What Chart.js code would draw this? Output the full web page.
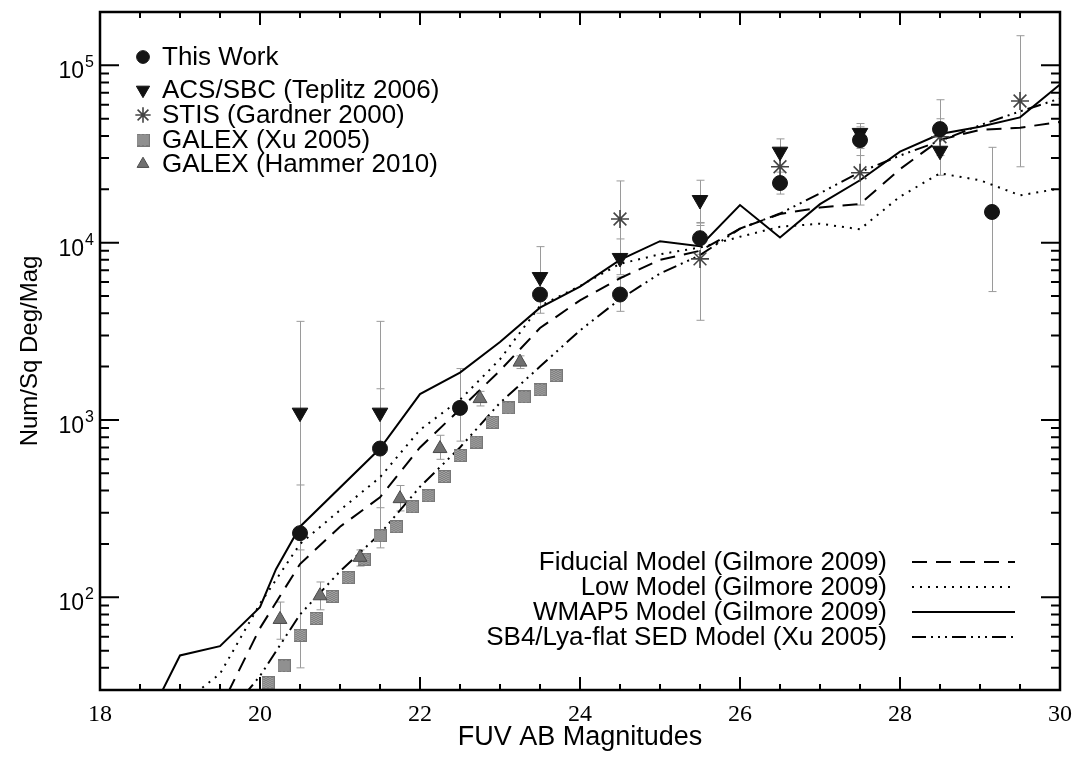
<!DOCTYPE html>
<html>
<head>
<meta charset="utf-8">
<script src="https://cdn.jsdelivr.net/npm/chart.js@4.4.1/dist/chart.umd.min.js"></script>
<style>
  html, body { margin: 0; padding: 0; background: #fff; }
  #wrap { width: 1073px; height: 759px; position: relative; }
</style>
</head>
<body>
<div id="wrap"><canvas id="chart"></canvas></div>
<script>
// ---- observed number counts ----
const thisWorkMag = [20.5, 21.5, 22.5, 23.5, 24.5, 25.5, 26.5, 27.5, 28.5, 29.15];
const thisWorkVal = [230, 690, 1170, 5100, 5100, 10600, 21700, 37900, 43700, 14900];
const thisWorkLo  = [40, 320, 760, 4000, 4100, 8600, 18800, 31000, 34000, 5300];
const thisWorkHi  = [430, 1500, 1950, 6300, 6400, 12900, 25000, 45000, 64000, 34500];

const acsMag = [20.5, 21.5, 23.5, 24.5, 25.5, 26.5, 27.5, 28.5];
const acsVal = [1100, 1100, 6400, 8200, 17400, 32600, 41600, 33000];
const acsLo  = [185, 190, 5200, 6600, 13000, 27000, 35000, 24000];
const acsHi  = [3600, 3600, 9500, 10500, 22500, 38500, 47000, 40000];

const stisMag = [24.5, 25.5, 26.5, 27.5, 28.5, 29.5];
const stisVal = [13600, 8100, 26800, 24800, 39600, 63000];
const stisLo  = [8500, 3650, 21000, 16300, 31000, 26800];
const stisHi  = [22300, 12500, 33000, 34000, 50000, 147000];

const xuMag = [20.1, 20.3, 20.5, 20.7, 20.9, 21.1, 21.3, 21.5, 21.7, 21.9, 22.1, 22.3, 22.5, 22.7, 22.9, 23.1, 23.3, 23.5, 23.7];
const xuVal = [33, 41, 61, 76, 101, 129, 164, 222, 250, 324, 374, 480, 630, 750, 970, 1170, 1350, 1480, 1780];

const hammerMag = [20.25, 20.75, 21.25, 21.75, 22.25, 22.75, 23.25];
const hammerVal = [75, 102, 168, 360, 690, 1320, 2120];
const hammerLo  = [58, 85, 150, 307, 600, 1200, 1950];
const hammerHi  = [94, 122, 185, 427, 820, 1450, 2300];

// ---- models ----
const fidMag = [19.6, 20.0, 20.5, 21.0, 21.5, 22.0, 22.5, 23.0, 23.5, 24.0, 24.5, 25.0, 25.5, 26.0, 26.5, 27.0, 27.5, 28.0, 28.5, 29.0, 29.5, 30.0];
const fidVal = [29, 67, 154, 250, 366, 700, 1150, 1900, 3300, 4730, 6300, 8000, 9000, 12000, 14500, 15800, 16500, 26000, 38000, 43300, 44500, 48000];

const lowMag = [19.2, 19.5, 20.0, 20.5, 21.0, 21.5, 22.0, 22.5, 23.0, 23.5, 24.0, 24.5, 25.0, 25.5, 26.0, 26.5, 27.0, 27.5, 28.0, 28.5, 29.0, 29.5, 30.0];
const lowVal = [29, 37, 92, 200, 310, 475, 880, 1300, 2200, 4400, 5700, 7600, 8600, 9400, 10800, 12300, 12800, 11900, 18200, 24600, 22500, 18500, 20200];

const wmapMag = [18.75, 19.0, 19.5, 20.0, 20.2, 20.5, 21.5, 22.0, 22.5, 23.0, 23.5, 24.0, 24.5, 25.0, 25.5, 26.0, 26.5, 27.0, 27.5, 28.0, 28.5, 29.0, 29.5, 30.0];
const wmapVal = [28, 47, 53, 88, 144, 250, 690, 1400, 1850, 2750, 4300, 5650, 8000, 10200, 9550, 16300, 10700, 16500, 22500, 32600, 41000, 45100, 50900, 78000];

const sb4Mag = [19.8, 20.0, 20.5, 21.0, 21.5, 22.0, 22.5, 23.0, 23.5, 24.0, 24.5, 25.0, 25.5, 26.0, 26.5, 27.0, 27.5, 28.0, 28.5, 29.0, 29.5, 30.0];
const sb4Val = [28, 36, 80, 140, 228, 420, 700, 1250, 2000, 3200, 4800, 6700, 8500, 12000, 14600, 19000, 25000, 31000, 37500, 46000, 55000, 65000];

const yDecades = [100, 1000, 10000, 100000];

const SANS = "'Liberation Sans', Arial, sans-serif";
const SERIF = "'Liberation Serif', 'Times New Roman', serif";

const pts = (xs, ys) => xs.map((x, i) => ({ x: x, y: ys[i] }));

// checkered grey square like the GALEX (Xu) symbol
function squareSprite() {
    const c = document.createElement('canvas');
    c.width = 13; c.height = 13;
    const g = c.getContext('2d');
    g.fillStyle = '#a2a2a2';
    g.fillRect(0, 0, 13, 13);
    g.fillStyle = '#5c5c5c';
    for (let i = 0; i < 13; i += 2) {
        for (let j = (i / 2) % 2; j < 13; j += 2) g.fillRect(i, j, 1, 1);
    }
    g.strokeStyle = '#777';
    g.strokeRect(0.5, 0.5, 12, 12);
    return c;
}
const sqImg = squareSprite();

const DASH_FID = [15, 9];
const DASH_LOW = [2, 6];
const DASH_SB4 = [14, 5, 2, 5, 2, 5, 2, 5];

function lineSet(label, xs, ys, dash) {
    return {
        type: 'line', label: label, data: pts(xs, ys),
        borderColor: '#000', borderWidth: 2, borderDash: dash,
        pointRadius: 0, tension: 0, fill: false, order: 5
    };
}

const datasets = [
    lineSet('Fiducial Model (Gilmore 2009)', fidMag, fidVal, DASH_FID),
    lineSet('Low Model (Gilmore 2009)', lowMag, lowVal, DASH_LOW),
    lineSet('WMAP5 Model (Gilmore 2009)', wmapMag, wmapVal, []),
    lineSet('SB4/Lya-flat SED Model (Xu 2005)', sb4Mag, sb4Val, DASH_SB4),
    {
        label: 'GALEX (Xu 2005)', data: pts(xuMag, xuVal),
        pointStyle: sqImg, pointRadius: 7, order: 4
    },
    {
        label: 'GALEX (Hammer 2010)', data: pts(hammerMag, hammerVal),
        errLo: hammerLo, errHi: hammerHi,
        pointStyle: 'triangle', pointRadius: 8, backgroundColor: '#707070',
        borderColor: '#4a4a4a', borderWidth: 1, order: 3
    },
    {
        label: 'STIS (Gardner 2000)', data: pts(stisMag, stisVal),
        errLo: stisLo, errHi: stisHi,
        pointStyle: 'star', pointRadius: 9, borderColor: '#444', borderWidth: 1.6,
        backgroundColor: '#444', order: 2
    },
    {
        label: 'ACS/SBC (Teplitz 2006)', data: pts(acsMag, acsVal),
        errLo: acsLo, errHi: acsHi,
        pointStyle: 'triangle', rotation: 180, pointRadius: 9,
        backgroundColor: '#111', borderColor: '#111', order: 1
    },
    {
        label: 'This Work', data: pts(thisWorkMag, thisWorkVal),
        errLo: thisWorkLo, errHi: thisWorkHi,
        pointStyle: 'circle', pointRadius: 7.5,
        backgroundColor: '#151515', borderColor: '#151515', order: 0
    }
];

// grey error bars, drawn under the symbols
const errorBars = {
    id: 'errorBars',
    beforeDatasetsDraw(chart) {
        const { ctx, chartArea, scales: { x, y } } = chart;
        ctx.save();
        ctx.beginPath();
        ctx.rect(chartArea.left, chartArea.top, chartArea.right - chartArea.left, chartArea.bottom - chartArea.top);
        ctx.clip();
        ctx.strokeStyle = '#9a9a9a';
        ctx.lineWidth = 1;
        chart.data.datasets.forEach(ds => {
            if (!ds.errLo) return;
            ds.data.forEach((p, i) => {
                const px = Math.round(x.getPixelForValue(p.x)) + 0.5;
                const y1 = y.getPixelForValue(ds.errLo[i]);
                const y2 = y.getPixelForValue(ds.errHi[i]);
                ctx.beginPath();
                ctx.moveTo(px, y1); ctx.lineTo(px, y2);
                ctx.moveTo(px - 4, y1); ctx.lineTo(px + 4, y1);
                ctx.moveTo(px - 4, y2); ctx.lineTo(px + 4, y2);
                ctx.stroke();
            });
        });
        ctx.restore();
    }
};

// box, inward ticks, y labels and the two legends
const frame = {
    id: 'frame',
    afterDraw(chart) {
        const { ctx, chartArea: a, scales: { x, y } } = chart;
        ctx.save();
        ctx.strokeStyle = '#000';
        ctx.lineWidth = 2.5;
        ctx.strokeRect(a.left, a.top, a.right - a.left, a.bottom - a.top);

        ctx.lineWidth = 2;
        ctx.beginPath();
        for (let m = x.min; m <= x.max + 1e-6; m += 0.5) {
            const px = x.getPixelForValue(m);
            const len = (Math.abs(m % 2) < 1e-6) ? 13 : 6;
            ctx.moveTo(px, a.bottom); ctx.lineTo(px, a.bottom - len);
            ctx.moveTo(px, a.top); ctx.lineTo(px, a.top + len);
        }
        for (let d = 10; d <= 100000; d *= 10) {
            for (let k = 1; k <= 9; k++) {
                const v = d * k;
                if (v < y.min || v > y.max) continue;
                const py = y.getPixelForValue(v);
                const len = k === 1 ? 19 : 9;
                ctx.moveTo(a.left, py); ctx.lineTo(a.left + len, py);
                ctx.moveTo(a.right, py); ctx.lineTo(a.right - len, py);
            }
        }
        ctx.stroke();

        // y tick labels 10^n
        ctx.fillStyle = '#000';
        ctx.textBaseline = 'alphabetic';
        yDecades.forEach(v => {
            const py = y.getPixelForValue(v);
            ctx.font = '23px ' + SANS;
            ctx.textAlign = 'right';
            ctx.fillText('10', 84, py + 13);
            ctx.font = '16px ' + SANS;
            ctx.textAlign = 'left';
            ctx.fillText(String(Math.round(Math.log10(v))), 85, py + 2);
        });

        // symbol legend, top left
        const symRows = [
            { ds: 8, text: 'This Work' },
            { ds: 7, text: 'ACS/SBC (Teplitz 2006)' },
            { ds: 6, text: 'STIS (Gardner 2000)' },
            { ds: 4, text: 'GALEX (Xu 2005)' },
            { ds: 5, text: 'GALEX (Hammer 2010)' }
        ];
        const symY = [57, 90, 115, 140, 164];
        ctx.font = '26px ' + SANS;
        ctx.textAlign = 'left';
        ctx.textBaseline = 'middle';
        symRows.forEach((r, i) => {
            const ds = chart.data.datasets[r.ds];
            ctx.fillStyle = ds.backgroundColor || '#888';
            ctx.strokeStyle = ds.borderColor || '#888';
            ctx.lineWidth = ds.borderWidth || 1;
            Chart.helpers.drawPoint(ctx, {
                pointStyle: ds.pointStyle, radius: ds.pointRadius * 0.85,
                rotation: ds.rotation || 0, borderWidth: ds.borderWidth || 1
            }, 143, symY[i]);
            ctx.fillStyle = '#000';
            ctx.fillText(r.text, 162, symY[i] + 1);
        });

        // model legend, bottom right
        const lineRows = [0, 1, 2, 3];
        const lineY = [562, 587, 612, 637];
        ctx.font = '26px ' + SANS;
        ctx.textAlign = 'right';
        lineRows.forEach((k, i) => {
            const ds = chart.data.datasets[k];
            ctx.fillStyle = '#000';
            ctx.fillText(ds.label, 887, lineY[i] + 1);
            ctx.strokeStyle = '#000';
            ctx.lineWidth = 2;
            ctx.setLineDash(ds.borderDash);
            ctx.beginPath();
            ctx.moveTo(912, lineY[i]); ctx.lineTo(1015, lineY[i]);
            ctx.stroke();
        });
        ctx.setLineDash([]);
        ctx.restore();
    }
};

new Chart(document.getElementById('chart'), {
    type: 'scatter',
    data: { datasets: datasets },
    plugins: [errorBars, frame],
    options: {
        responsive: true,
        maintainAspectRatio: false,
        animation: false,
        layout: { padding: { left: 0, top: 12, right: 13, bottom: 0 } },
        plugins: { legend: { display: false }, tooltip: { enabled: false } },
        scales: {
            x: {
                type: 'linear', min: 18, max: 30,
                grid: { display: false, drawTicks: false },
                border: { display: false },
                ticks: {
                    stepSize: 2, autoSkip: false, maxRotation: 0, padding: 10,
                    color: '#000', font: { family: SERIF, size: 24 }
                },
                title: {
                    display: true, text: 'FUV AB Magnitudes', color: '#000',
                    font: { family: SANS, size: 27 }, padding: { top: 0, bottom: 5 }
                },
                afterFit: s => { s.height = 69; s.paddingLeft = 0; s.paddingRight = 0; }
            },
            y: {
                type: 'logarithmic', min: 30, max: 200000,
                grid: { display: false, drawTicks: false },
                border: { display: false },
                ticks: { display: false },
                title: {
                    display: true, text: 'Num/Sq Deg/Mag', color: '#000',
                    font: { family: SANS, size: 24 }, padding: { top: 16, bottom: 0 }
                },
                afterFit: s => { s.width = 100; }
            }
        }
    }
});
</script>
</body>
</html>
